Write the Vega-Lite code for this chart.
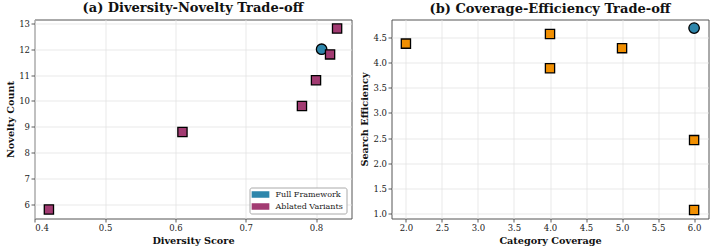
{
  "$schema": "https://vega.github.io/schema/vega-lite/v6.json",
  "padding": {"left": 4.5, "top": 1.5, "right": 0, "bottom": 0},
  "background": "white",
  "config": {
    "font": "DejaVu Serif",
    "view": {"stroke": "#555555", "strokeWidth": 1},
    "axis": {
      "grid": true, "gridColor": "#e3e3e3", "gridWidth": 0.8,
      "domain": false, "tickColor": "#333333", "tickSize": 3.5, "tickWidth": 0.8,
      "labelFont": "DejaVu Serif", "labelFontSize": 8.5, "labelColor": "#222222", "labelPadding": 1.5,
      "titleFont": "DejaVu Serif", "titleFontSize": 9.7, "titleFontWeight": "bold", "titleColor": "#111111", "titlePadding": 3
    },
    "title": {"font": "DejaVu Serif", "fontSize": 13, "fontWeight": "bold", "offset": 4, "color": "#111111"},
    "concat": {"spacing": 6},
    "legend": {
      "orient": "bottom-right", "offset": 4.7, "title": null,
      "labelFont": "DejaVu Serif", "labelFontSize": 8, "labelColor": "#222222", "labelOffset": 11,
      "symbolStrokeWidth": 0, "symbolStrokeColor": "transparent", "symbolOpacity": 1,
      "strokeColor": "#aaaaaa", "fillColor": "white", "padding": 3, "cornerRadius": 2, "rowPadding": 4
    }
  },
  "datasets": {
    "a": [
      {"method": "Full Framework", "diversity": 0.808, "novelty": 12.0},
      {"method": "Ablated Variants", "diversity": 0.42, "novelty": 5.8},
      {"method": "Ablated Variants", "diversity": 0.61, "novelty": 8.8},
      {"method": "Ablated Variants", "diversity": 0.78, "novelty": 9.8},
      {"method": "Ablated Variants", "diversity": 0.80, "novelty": 10.8},
      {"method": "Ablated Variants", "diversity": 0.82, "novelty": 11.8},
      {"method": "Ablated Variants", "diversity": 0.83, "novelty": 12.8}
    ],
    "b": [
      {"method": "Full Framework", "coverage": 6, "efficiency": 4.69},
      {"method": "Ablated Variants", "coverage": 2, "efficiency": 4.38},
      {"method": "Ablated Variants", "coverage": 4, "efficiency": 4.57},
      {"method": "Ablated Variants", "coverage": 4, "efficiency": 3.89},
      {"method": "Ablated Variants", "coverage": 5, "efficiency": 4.29},
      {"method": "Ablated Variants", "coverage": 6, "efficiency": 2.46},
      {"method": "Ablated Variants", "coverage": 6, "efficiency": 1.07}
    ]
  },
  "hconcat": [
    {
      "width": 317, "height": 199,
      "title": "(a) Diversity-Novelty Trade-off",
      "data": {"name": "a"},
      "encoding": {
        "x": {"field": "diversity", "type": "quantitative", "scale": {"domain": [0.3995, 0.8505], "nice": false, "zero": false}, "axis": {"values": [0.4, 0.5, 0.6, 0.7, 0.8], "format": ".1f", "title": "Diversity Score"}},
        "y": {"field": "novelty", "type": "quantitative", "scale": {"domain": [5.45, 13.15], "nice": false, "zero": false}, "axis": {"values": [6, 7, 8, 9, 10, 11, 12, 13], "format": "d", "title": "Novelty Count"}},
        "color": {"field": "method", "type": "nominal", "scale": {"domain": ["Full Framework", "Ablated Variants"], "range": ["#2E86AB", "#A23B72"]},
          "legend": {"orient": "bottom-right", "symbolType": "M-2.8,-1.03H2.8V1.03H-2.8Z", "symbolSize": 40, "symbolOffset": 4, "symbolStrokeWidth": 0}}
      },
      "layer": [
        {"transform": [{"filter": "datum.method === 'Full Framework'"}], "mark": {"type": "circle", "size": 110, "stroke": "black", "strokeWidth": 1.3, "opacity": 1}},
        {"transform": [{"filter": "datum.method === 'Ablated Variants'"}], "mark": {"type": "square", "size": 85, "stroke": "black", "strokeWidth": 1.3, "opacity": 1}}
      ]
    },
    {
      "width": 317, "height": 199,
      "title": "(b) Coverage-Efficiency Trade-off",
      "data": {"name": "b"},
      "encoding": {
        "x": {"field": "coverage", "type": "quantitative", "scale": {"domain": [1.8, 6.2], "nice": false, "zero": false}, "axis": {"values": [2, 2.5, 3, 3.5, 4, 4.5, 5, 5.5, 6], "format": ".1f", "title": "Category Coverage"}},
        "y": {"field": "efficiency", "type": "quantitative", "scale": {"domain": [0.9, 4.86], "nice": false, "zero": false}, "axis": {"values": [1, 1.5, 2, 2.5, 3, 3.5, 4, 4.5], "format": ".1f", "title": "Search Efficiency"}},
        "color": {"field": "method", "type": "nominal", "scale": {"domain": ["Full Framework", "Ablated Variants"], "range": ["#2E86AB", "#F18F01"]}, "legend": null}
      },
      "layer": [
        {"transform": [{"filter": "datum.method === 'Full Framework'"}], "mark": {"type": "circle", "size": 110, "stroke": "black", "strokeWidth": 1.3, "opacity": 1}},
        {"transform": [{"filter": "datum.method === 'Ablated Variants'"}], "mark": {"type": "square", "size": 85, "stroke": "black", "strokeWidth": 1.3, "opacity": 1}}
      ]
    }
  ],
  "resolve": {"scale": {"color": "independent", "x": "independent", "y": "independent"}, "legend": {"color": "independent"}}
}
